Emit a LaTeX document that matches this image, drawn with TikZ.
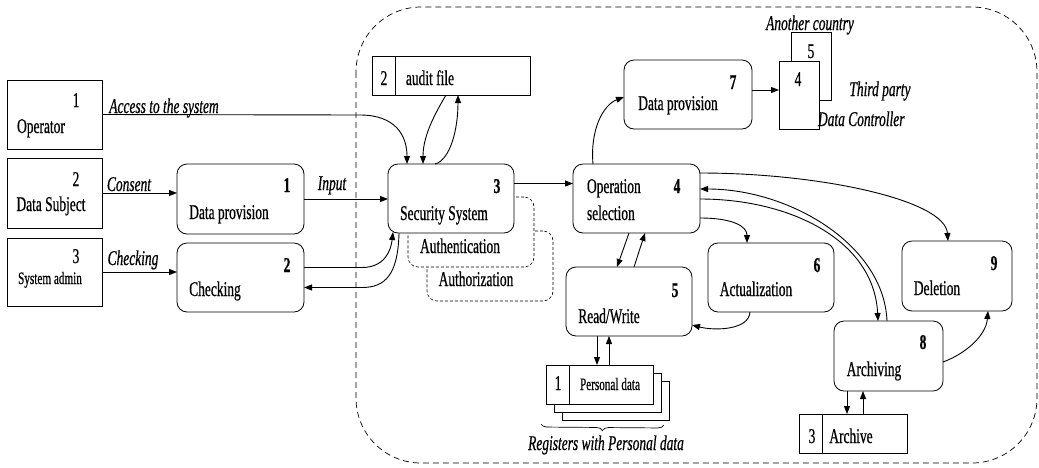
\documentclass[tikz,border=0pt]{standalone}
\usepackage{fontspec}
\setmainfont{Liberation Serif}[FakeStretch=0.64,FakeBold=0.6]
\usetikzlibrary{arrows.meta,calc,decorations.pathreplacing}
\begin{document}
\begin{tikzpicture}[x=1pt,y=-1pt,
  every node/.style={inner sep=0pt, outer sep=0pt},
  box/.style={draw, line width=0.8pt, fill=white},
  proc/.style={box, rounded corners=10pt},
  dbox/.style={draw, line width=0.6pt, dash pattern=on 3pt off 2pt, rounded corners=10pt, fill=white},
  txt/.style={anchor=base, font=\fontsize{21}{22}\selectfont},
  stxt/.style={anchor=base, font=\fontsize{17.5}{19}\selectfont},
  num/.style={anchor=base, font=\fontsize{21}{22}\selectfont\bfseries},
  itxt/.style={anchor=base, font=\fontsize{21}{22}\selectfont\itshape},
  flow/.style={draw, line width=0.9pt, -{Triangle[length=8pt,width=6pt]}},
  border/.style={draw, line width=0.7pt, dash pattern=on 6pt off 4pt, rounded corners=65pt},
]
\useasboundingbox (0,0) rectangle (1039,467);
\draw[border] (356,7) rectangle (1037,463);

% external entities
\node[box, minimum width=95, minimum height=69] (op) at (54.5,114.5) {};
\node[box, minimum width=95, minimum height=70] (ds) at (54.5,193) {};
\node[box, minimum width=95, minimum height=68] (sa) at (54.5,272) {};
% processes
\node[proc, minimum width=127, minimum height=70] (p1) at (240.5,199) {};
\node[proc, minimum width=127, minimum height=69] (p2) at (240.5,277.5) {};
\node[dbox, minimum width=126, minimum height=70] (az) at (490,266) {};
\node[dbox, minimum width=126, minimum height=70] (au) at (471,232) {};
\node[proc, minimum width=126, minimum height=69] (p3) at (451,198.5) {};
\node[box, minimum width=158, minimum height=39] (af) at (451,75.5) {};
\node[proc, minimum width=127, minimum height=69] (p4) at (636.5,198.5) {};
\node[proc, minimum width=128, minimum height=69] (p7) at (688,94.5) {};
\node[box, minimum width=40, minimum height=68] (e5) at (811,66) {};
\node[box, minimum width=40, minimum height=68] (e4) at (799,95) {};
\node[proc, minimum width=126, minimum height=69] (p6) at (771,277.5) {};
\node[proc, minimum width=110, minimum height=70] (p9) at (957,276) {};
\node[proc, minimum width=126, minimum height=69] (p5) at (629,301.5) {};
\node[proc, minimum width=109, minimum height=70] (p8) at (888.5,356) {};
% stores
\node[box, minimum width=107, minimum height=39] (pd3) at (615.5,400.5) {};
\node[box, minimum width=107, minimum height=39] (pd2) at (607.5,392.5) {};
\node[box, minimum width=107, minimum height=39] (pd1) at (599.5,384.5) {};
\node[box, minimum width=108, minimum height=39] (ar) at (853,433.5) {};
\draw[line width=0.8pt] ($(af.north west)+(23,0)$) -- ($(af.south west)+(23,0)$);
\draw[line width=0.8pt] ($(pd1.north west)+(23,0)$) -- ($(pd1.south west)+(23,0)$);
\draw[line width=0.8pt] ($(ar.north west)+(23,0)$) -- ($(ar.south west)+(23,0)$);

% texts
\node[txt] (top1) at (76,107) {1};
\node[txt] (topn) at (41,133) {Operator};
\node[txt] (tds1) at (76,186) {2};
\node[txt] (tdsn) at (51,211) {Data Subject};
\node[txt] (tsa1) at (76,263) {3};
\node[stxt] (tsan) at (50,284) {System admin};
\node[itxt] (lcons) at (129,191) {Consent};
\node[itxt] (lchk) at (133,265) {Checking};
\node[itxt] (lacc) at (164,113) {Access to the system};
\node[itxt] (linp) at (332,190) {Input};
\node[num] (tp1n) at (287,192) {1};
\node[txt] (tp1) at (229,219) {Data provision};
\node[num] (tp2n) at (287,272) {2};
\node[txt] (tp2) at (215,296) {Checking};
\node[num] (tp3n) at (497,193) {3};
\node[txt] (tp3) at (444,220) {Security System};
\node[txt] (tau) at (460,253) {Authentication};
\node[txt] (taz) at (476,286) {Authorization};
\node[num] (tp4n) at (677,193) {4};
\node[txt, anchor=base west] (tp4a) at (587,193) {Operation};
\node[txt, anchor=base west] (tp4b) at (587,220) {selection};
\node[num] (tp5n) at (675,297) {5};
\node[txt] (tp5) at (609,323) {Read/Write};
\node[num] (tp6n) at (817,272) {6};
\node[txt] (tp6) at (756,296) {Actualization};
\node[num] (tp9n) at (994,270) {9};
\node[txt] (tp9) at (937,295) {Deletion};
\node[num] (tp8n) at (923,349) {8};
\node[txt] (tp8) at (874,376) {Archiving};
\node[num] (tp7n) at (733,89) {7};
\node[txt] (tp7) at (678,110) {Data provision};
\node[txt] (te4) at (798,86) {4};
\node[txt] (te5) at (811,58) {5};
\node[itxt] (lanc) at (810,30) {Another country};
\node[itxt] (ltp) at (880,96) {Third party};
\node[itxt, anchor=base west] (ldc) at (818,126) {Data Controller};
\node[txt] (taf1) at (384,85) {2};
\node[txt] (taf) at (430,85) {audit file};
\node[txt] (tpd1) at (558,390) {1};
\node[stxt] (tpd) at (610,390) {Personal data};
\draw[line width=0.7pt, decorate, decoration={brace, mirror, amplitude=6pt}] ($(pd1.south west)+(-5,20)$) -- ($(pd3.south east)+(-5,5)$);
\node[itxt] (lreg) at (606,450) {Registers with Personal data};
\node[txt] (tar1) at (812,443) {3};
\node[txt] (tar) at (851,443) {Archive};

% connectors
\path[flow] (op.east) -- (360,115) .. controls (395,115) and (407,135) .. ($(p3.north west)+(19,0)$);
\path[flow] (ds.east) -- (ds.east -| p1.west);
\path[flow] (sa.east) -- (sa.east -| p2.west);
\path[flow] (p1.east) -- (p1.east -| p3.west);
\path[flow] ($(p2.east)+(0,-10)$) -- (362,267.5) .. controls (385,267.5) and (391,250) .. ($(p3.south west)+(5,-1)$);
\path[flow] ($(p3.south west)+(11,0)$) .. controls (398,275) and (385,287.5) .. (362,287.5) -- ($(p2.east)+(0,10)$);
\path[flow] ($(af.south west)+(74,0)$) .. controls (436,112) and (423,135) .. ($(p3.north west)+(35,0)$);
\path[flow] ($(p3.north west)+(47,0)$) .. controls (450,160) and (458,130) .. ($(af.south west)+(86,0)$);
\coordinate (c34) at ($(p3.east)+(0,-15)$);
\path[flow] (c34) -- (c34 -| p4.west);
\path[flow] ($(p4.north west)+(20,0)$) .. controls (590,130) and (603,105) .. ($(p7.west)+(0,2.5)$);
\coordinate (c7) at ($(p7.east)+(0,-4.5)$);
\path[flow] (c7) -- (c7 -| e4.west);
\path[flow] ($(p4.north east)+(0,9)$) .. controls (820,173) and (945,200) .. ($(p9.north west)+(46,0)$);
\path[flow] ($(p8.north west)+(53,0)$) .. controls (884,245) and (790,189) .. ($(p4.north east)+(0,25)$);
\path[flow] ($(p4.north east)+(0,35)$) .. controls (790,199) and (874,240) .. ($(p8.north west)+(44,0)$);
\path[flow] ($(p4.south east)+(0,-15)$) .. controls (732,218) and (747,226) .. ($(p6.north west)+(39,0)$);
\path[flow] ($(p6.south west)+(42,0)$) .. controls (749,330) and (715,331) .. ($(p5.south east)+(0,-11)$);
\path[flow] ($(p4.south west)+(56,0)$) -- ($(p5.north west)+(51,0)$);
\path[flow] ($(p5.north west)+(68,0)$) -- ($(p4.south west)+(72,0)$);
\path[flow] ($(p5.south west)+(31,0)$) -- ($(pd1.north west)+(51,0)$);
\path[flow] ($(pd1.north west)+(63,0)$) -- ($(p5.south west)+(43,0)$);
\path[flow] ($(p8.south west)+(13,0)$) -- ($(ar.north west)+(48,0)$);
\path[flow] ($(ar.north west)+(64,0)$) -- ($(p8.south west)+(29,0)$);
\path[flow] ($(p8.east)+(0,6)$) .. controls (965,354) and (986,336) .. ($(p9.south west)+(86,0)$);
\end{tikzpicture}
\end{document}
